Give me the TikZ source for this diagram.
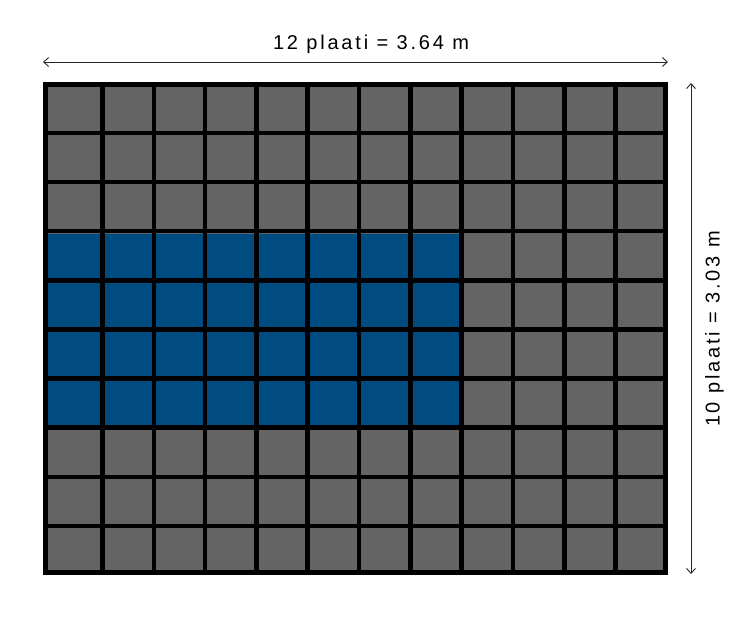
\documentclass[tikz,border=0pt]{standalone}
\usepackage{fontspec}
\setmainfont{Liberation Sans}[LetterSpace=14]
\usetikzlibrary{arrows.meta}
\definecolor{plategray}{RGB}{100,100,100}
\definecolor{plateblue}{RGB}{0,75,128}
\begin{document}
\begin{tikzpicture}[x=1pt,y=-1pt,
  gridline/.style={black,line width=4.6pt},
  dimarrow/.style={line width=0.9pt,black!85,{Straight Barb[length=5pt,width=9pt]}-{Straight Barb[length=5pt,width=9pt]}},
  dimlabel/.style={font=\fontsize{20}{24}\selectfont,inner sep=0pt,anchor=base}]
\useasboundingbox (0,0) rectangle (750,625);
% frame and plates
\fill[black] (43,82) rectangle (668,575);
\fill[plategray] (48,87.3) rectangle (663,569.5);
\fill[plateblue] (48,233.5) rectangle (459.3,425.3);
\foreach \k in {0,...,10}{
  \draw[gridline] ({102.5+\k*51.3},82) -- ({102.5+\k*51.3},575);
}
\foreach \k in {0,...,8}{
  \draw[gridline] (43,{132.8+\k*49.15}) -- (668,{132.8+\k*49.15});
}
% dimension arrows
\coordinate (tl) at (43,62);
\coordinate (tr) at (668,62);
\coordinate (rt) at (691,83);
\coordinate (rb) at (691,574);
\draw[dimarrow] (tl) -- (tr);
\draw[dimarrow] (rt) -- (rb);
\node[dimlabel] (wlabel) at (371,49.5) {12 plaati = 3.64 m};
\node[dimlabel,rotate=90] (hlabel) at (719.5,329) {10 plaati = 3.03 m};
\end{tikzpicture}
\end{document}
